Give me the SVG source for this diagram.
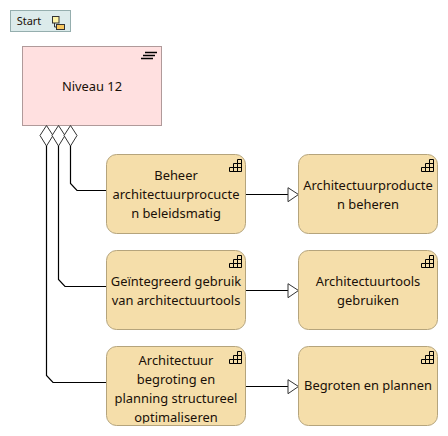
<svg xmlns="http://www.w3.org/2000/svg" width="448" height="436" viewBox="0 0 448 436">
<style>
text{font-family:"Noto Sans","Open Sans","Liberation Sans",sans-serif;font-size:12.9px;fill:#1a1008;text-anchor:middle}
.b{fill:#f5deaa;stroke:#b5a47c;stroke-width:1}
.c{fill:none;stroke:#000;stroke-width:1.2}
.d{fill:#fff;stroke:#333;stroke-width:1}
.i{fill:none;stroke:#000;stroke-width:1}
</style>
<defs>
<clipPath id="clip"><rect x="106" y="346" width="140" height="77.5"/></clipPath>
<g id="ic"><path class="i" d="M0 12H12V0H8V4H4V8H0ZM4 8H12M8 4H12M4 8V12M8 4V12"/></g>
</defs>
<rect x="0" y="0" width="448" height="436" fill="#fff"/>
<g id="connectors">
<path class="c" d="M70.5 146V183.5L77 190.5H107"/>
<path class="c" d="M58.5 146V279.5L65 286.5H107"/>
<path class="c" d="M46.5 146V375.5L53 382.5H107"/>
<path class="c" d="M245.5 194.5H288M245.5 290.5H288M245.5 386.5H288"/>
<path class="d" d="M288 187.7L298.5 194.5L288 201.7Z"/>
<path class="d" d="M288 283.7L298.5 290.5L288 297.7Z"/>
<path class="d" d="M288 379.7L298.5 386.5L288 393.7Z"/>
</g>
<g id="start">
<rect x="10.5" y="10.5" width="60" height="21" fill="#dcebeb" stroke="#95aeae"/>
<text x="29" y="25" style="font-size:11px">Start</text>
<rect x="52.5" y="16.5" width="6.5" height="6.5" fill="#fdf3a8" stroke="#333"/>
<rect x="56.5" y="24.5" width="8" height="5" fill="#f8c860" stroke="#333"/>
<path d="M54.5 23V27H56.5" fill="none" stroke="#333"/>
</g>
<g id="niveau">
<rect x="22.5" y="46.5" width="139" height="79" fill="#ffe0e0" stroke="#b09a9a"/>
<text x="92" y="90.5">Niveau 12</text>
<path d="M145 52.5H157M143 55.5H155M141 58.5H153" stroke="#000" stroke-width="1.6" fill="none"/>
</g>
<g id="diamonds">
<path class="d" d="M46.5 125.5L53 135.5L46.5 146L40 135.5Z"/>
<path class="d" d="M58.5 125.5L65 135.5L58.5 146L52 135.5Z"/>
<path class="d" d="M70.5 125.5L77 135.5L70.5 146L64 135.5Z"/>
</g>
<g id="n1">
<rect class="b" x="106.5" y="154.5" width="139" height="79" rx="10"/>
<use href="#ic" x="229.5" y="159.5"/>
<text x="176" y="180">Beheer</text>
<text x="176" y="199">architectuurprocucte</text>
<text x="176" y="218">n beleidsmatig</text>
</g>
<g id="n2">
<rect class="b" x="298.5" y="154.5" width="139" height="79" rx="10"/>
<use href="#ic" x="421.5" y="159.5"/>
<text x="368" y="190">Architectuurproducte</text>
<text x="368" y="209">n beheren</text>
</g>
<g id="n3">
<rect class="b" x="106.5" y="250.5" width="139" height="79" rx="10"/>
<use href="#ic" x="229.5" y="255.5"/>
<text x="176" y="286">Geïntegreerd gebruik</text>
<text x="176" y="305">van architectuurtools</text>
</g>
<g id="n4">
<rect class="b" x="298.5" y="250.5" width="139" height="79" rx="10"/>
<use href="#ic" x="421.5" y="255.5"/>
<text x="368" y="286">Architectuurtools</text>
<text x="368" y="305">gebruiken</text>
</g>
<g id="n5">
<rect class="b" x="106.5" y="346.5" width="139" height="79" rx="10"/>
<use href="#ic" x="229.5" y="351.5"/>
<g clip-path="url(#clip)">
<text x="176" y="365">Architectuur</text>
<text x="176" y="384">begroting en</text>
<text x="176" y="403">planning structureel</text>
<text x="176" y="422">optimaliseren</text>
</g>
</g>
<g id="n6">
<rect class="b" x="298.5" y="346.5" width="139" height="79" rx="10"/>
<use href="#ic" x="421.5" y="351.5"/>
<text x="368" y="390">Begroten en plannen</text>
</g>
</svg>
